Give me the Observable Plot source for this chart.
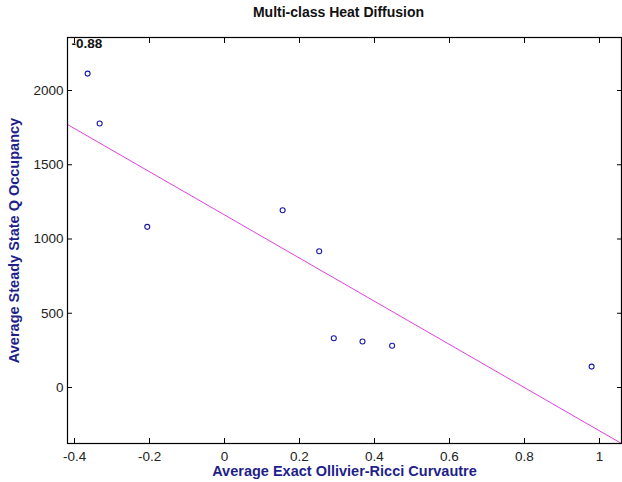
<!DOCTYPE html>
<html>
<head>
<meta charset="utf-8">
<script src="https://cdn.jsdelivr.net/npm/d3@7"></script>
<script src="https://cdn.jsdelivr.net/npm/@observablehq/plot@0.6"></script>
<style>
  html, body { margin: 0; padding: 0; background: #fff; }
  svg { display: block; }
</style>
</head>
<body>
<div id="chart"></div>
<script>
const title = "Multi-class Heat Diffusion";
const xLabel = "Average Exact Ollivier-Ricci Curvautre";
const yLabel = "Average Steady State Q Occupancy";
const corrLabel = "-0.88";

const curvature = [-0.365, -0.333, -0.206, 0.155, 0.2525, 0.2915, 0.368, 0.447, 0.979];
const occupancy = [2114, 1778, 1082, 1194, 918, 332, 310, 281, 141];

const fitX = [-0.4187, 1.0587];
const fitY = [1771, -377];

const xTicks = [-0.4, -0.2, 0, 0.2, 0.4, 0.6, 0.8, 1];
const yTicks = [0, 500, 1000, 1500, 2000];

const points = curvature.map((x, i) => ({x, y: occupancy[i]}));
const fit = fitX.map((x, i) => ({x, y: fitY[i]}));

const labelColor = "#1f1f8a";
const tickColor = "#222";

const chart = Plot.plot({
  width: 622,
  height: 482,
  marginLeft: 67,
  marginRight: 1,
  marginTop: 37,
  marginBottom: 39,
  style: {fontFamily: "Arial, 'Liberation Sans', sans-serif", fontSize: "12px", background: "#fff"},
  x: {domain: [-0.4187, 1.0587]},
  y: {domain: [-377, 2357]},
  marks: [
    Plot.line(fit, {x: "x", y: "y", stroke: "#e040e0", strokeWidth: 1}),
    Plot.dot(points, {x: "x", y: "y", r: 2.5, stroke: "#1a1aa6", strokeWidth: 1.1, fill: "none"}),
    Plot.axisX({anchor: "bottom", ticks: xTicks, tickSize: -5, tickPadding: 13, tickFormat: d => String(d), fill: tickColor, fontSize: 13.5, label: null}),
    Plot.axisX({anchor: "top", ticks: xTicks, tickSize: -5, tickFormat: () => "", label: null}),
    Plot.axisY({anchor: "left", ticks: yTicks, tickSize: -5, tickPadding: 9, tickFormat: d => String(d), fill: tickColor, fontSize: 13.5, label: null}),
    Plot.axisY({anchor: "right", ticks: yTicks, tickSize: -5, tickFormat: () => "", label: null}),
    Plot.frame({stroke: "#000", strokeWidth: 1.2}),
    Plot.text([corrLabel], {frameAnchor: "top-left", dx: 4, dy: 1, textAnchor: "start", lineAnchor: "top", fontWeight: "bold", fontSize: 13.5, fill: "#111"}),
    Plot.text([title], {frameAnchor: "top", dx: -6, dy: -30, lineAnchor: "top", fontWeight: "bold", fontSize: 14, fill: "#111"}),
    Plot.text([xLabel], {frameAnchor: "bottom", dy: 22, lineAnchor: "top", fontWeight: "bold", fontSize: 14.5, fill: labelColor}),
    Plot.text([yLabel], {frameAnchor: "left", dx: -53, rotate: -90, textAnchor: "middle", fontWeight: "bold", fontSize: 14.5, fill: labelColor})
  ]
});
document.getElementById("chart").appendChild(chart);
</script>
</body>
</html>
